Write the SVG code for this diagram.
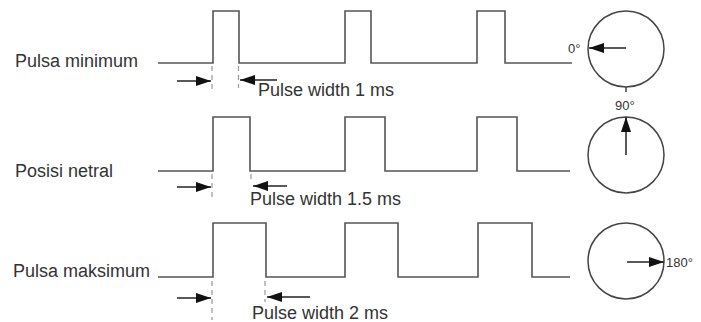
<svg xmlns="http://www.w3.org/2000/svg" width="701" height="322" viewBox="0 0 701 322">
  <defs>
    <marker id="head" markerUnits="userSpaceOnUse" markerWidth="16" markerHeight="12" refX="15" refY="6" orient="auto">
      <path d="M0,1 L15,6 L0,11 Z" fill="#111"/>
    </marker>
    <style>
      .wave { fill: none; stroke: #555; stroke-width: 1.6; }
      .ext { stroke: #999; stroke-width: 1.2; stroke-dasharray: 5 4; }
      .dim { stroke: #222; stroke-width: 1.5; marker-end: url(#head); }
      .dial { fill: none; stroke: #444; stroke-width: 1.5; }
      .label { font-family: "Liberation Sans", Arial, sans-serif; font-size: 18px; fill: #333; }
      .deg { font-family: "Liberation Sans", Arial, sans-serif; font-size: 13px; fill: #333; }
    </style>
  </defs>

  <rect width="701" height="322" fill="#fff"/>

  <!-- minimum pulse: 1 ms -->
  <g id="row-min">
    <text class="label" x="15" y="67">Pulsa minimum</text>
    <path class="wave" d="M158,63 H213 V11 H239 V63 H345 V11 H371 V63 H477 V11 H505 V63 H572"/>
    <line class="ext" x1="212" y1="66" x2="212" y2="90"/>
    <line class="ext" x1="238.5" y1="66" x2="238.5" y2="88"/>
    <text class="label" x="258" y="96">Pulse width 1 ms</text>
  </g>

  <!-- neutral position: 1.5 ms -->
  <g id="row-neutral">
    <text class="label" x="15" y="177">Posisi netral</text>
    <path class="wave" d="M158,171 H213 V117 H250 V171 H345 V117 H385 V171 H477 V117 H517 V171 H570"/>
    <line class="ext" x1="212" y1="174" x2="212" y2="200"/>
    <line class="ext" x1="251" y1="174" x2="251" y2="182"/>
    <text class="label" x="250" y="205">Pulse width 1.5 ms</text>
  </g>

  <!-- maximum pulse: 2 ms -->
  <g id="row-max">
    <text class="label" x="13" y="277">Pulsa maksimum</text>
    <path class="wave" d="M158,277 H213 V223 H266 V277 H345 V223 H398 V277 H478 V223 H532 V277 H570"/>
    <line class="ext" x1="212" y1="281" x2="212" y2="320"/>
    <line class="ext" x1="265" y1="281" x2="265" y2="302"/>
    <text class="label" x="252" y="319">Pulse width 2 ms</text>
  </g>

  <!-- servo horn dials -->
  <g id="dial-0">
    <circle class="dial" cx="626" cy="49" r="38"/>
    <line class="dim" x1="626" y1="48" x2="589" y2="48"/>
    <line class="dial" x1="626" y1="87" x2="626" y2="92"/>
    <text class="deg" x="568" y="53">0°</text>
  </g>
  <g id="dial-90">
    <circle class="dial" cx="626" cy="155" r="38"/>
    <line class="dim" x1="626" y1="155" x2="626" y2="117"/>
    <text class="deg" x="615" y="110">90°</text>
  </g>
  <g id="dial-180">
    <circle class="dial" cx="626" cy="261" r="38"/>
    <line class="dim" x1="627" y1="262" x2="664" y2="262"/>
    <text class="deg" x="666" y="267">180°</text>
  </g>

  <!-- pulse width dimension arrows -->
  <g id="connectors">
    <line class="dim" x1="177" y1="81" x2="211" y2="81"/>
    <line class="dim" x1="277" y1="80" x2="240" y2="80"/>
    <line class="dim" x1="177" y1="187" x2="211" y2="187"/>
    <line class="dim" x1="287" y1="186" x2="253" y2="186"/>
    <line class="dim" x1="177" y1="298" x2="211" y2="298"/>
    <line class="dim" x1="310" y1="297" x2="267" y2="297"/>
  </g>
</svg>
